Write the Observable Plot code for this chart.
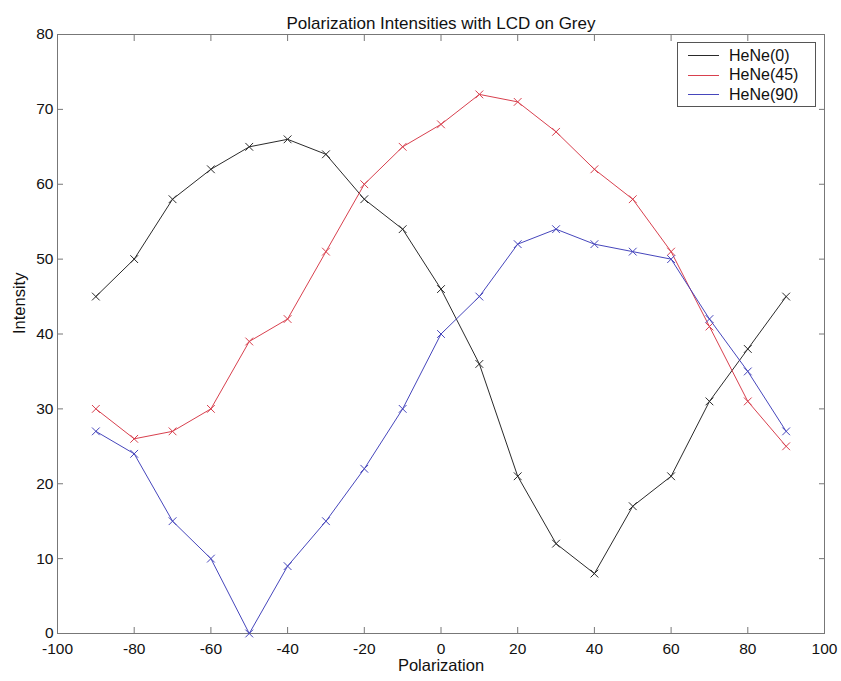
<!DOCTYPE html>
<html>
<head>
<meta charset="utf-8">
<script src="https://cdn.jsdelivr.net/npm/d3@7"></script>
<script src="https://cdn.jsdelivr.net/npm/@observablehq/plot@0.6"></script>
<style>
  body { margin: 0; background: #fff; font-family: "Liberation Sans", Arial, sans-serif; }
  #wrap { position: relative; width: 841px; height: 681px; }
  #legend { position: absolute; left: 677px; top: 42px; width: 137px; height: 63px; border: 1px solid #555; background: #fff; box-sizing: content-box; }
  .row { position: absolute; left: 0; height: 20px; display: flex; align-items: center; font-size: 16px; color: #111; }
  .sw { display: inline-block; width: 31px; height: 0; border-top: 1px solid; margin-left: 10px; margin-right: 10px; }
</style>
</head>
<body>
<div id="wrap"><div id="chart"></div><div id="legend"></div></div>
<script>
const polarization = [-90, -80, -70, -60, -50, -40, -30, -20, -10, 0, 10, 20, 30, 40, 50, 60, 70, 80, 90];
const hene0  = [45, 50, 58, 62, 65, 66, 64, 58, 54, 46, 36, 21, 12, 8, 17, 21, 31, 38, 45];
const hene45 = [30, 26, 27, 30, 39, 42, 51, 60, 65, 68, 72, 71, 67, 62, 58, 51, 41, 31, 25];
const hene90 = [27, 24, 15, 10, 0, 9, 15, 22, 30, 40, 45, 52, 54, 52, 51, 50, 42, 35, 27];
const seriesNames = ["HeNe(0)", "HeNe(45)", "HeNe(90)"];
const seriesColors = ["#2a2a2a", "#d8404e", "#4646bc"];
const xTicks = [-100, -80, -60, -40, -20, 0, 20, 40, 60, 80, 100];
const yTicks = [0, 10, 20, 30, 40, 50, 60, 70, 80];
const titleText = "Polarization Intensities with LCD on Grey";

const seriesValues = [hene0, hene45, hene90];
const rows = seriesValues.flatMap((vals, i) => vals.map((v, j) => ({x: polarization[j], y: v, s: seriesNames[i]})));

const fmt = d => String(d);
const marks = [Plot.frame({stroke: "#777", strokeWidth: 1})];
// inward ticks on all four sides
marks.push(Plot.axisX(xTicks, {anchor: "bottom", tickSize: 6, dy: -6, tickFormat: () => "", label: null, stroke: "#777"}));
marks.push(Plot.axisX(xTicks, {anchor: "top", tickSize: 6, dy: 6, tickFormat: () => "", label: null, stroke: "#777"}));
marks.push(Plot.axisY(yTicks, {anchor: "left", tickSize: 6, dx: 6, tickFormat: () => "", label: null, stroke: "#777"}));
marks.push(Plot.axisY(yTicks, {anchor: "right", tickSize: 6, dx: -6, tickFormat: () => "", label: null, stroke: "#777"}));
// tick labels
marks.push(Plot.axisX(xTicks, {anchor: "bottom", tickSize: 0, tickPadding: 9, tickFormat: fmt, label: null, fontSize: 15.5, fill: "#111"}));
marks.push(Plot.axisY(yTicks, {anchor: "left", tickSize: 0, tickPadding: 4, tickFormat: fmt, label: null, fontSize: 15.5, fill: "#111"}));

seriesNames.forEach((name, i) => {
  const d = rows.filter(r => r.s === name);
  marks.push(Plot.line(d, {x: "x", y: "y", stroke: seriesColors[i], strokeWidth: 1}));
  marks.push(Plot.dot(d, {x: "x", y: "y", symbol: "times", r: 3.6, stroke: seriesColors[i], strokeWidth: 1}));
});

marks.push(Plot.text([titleText], {frameAnchor: "top", dy: -18, fontSize: 17, fill: "#111"}));
marks.push(Plot.text(["Polarization"], {frameAnchor: "bottom", dy: 37, fontSize: 16.5, fill: "#111"}));
marks.push(Plot.text(["Intensity"], {frameAnchor: "left", dx: -38, rotate: -90, fontSize: 16.5, fill: "#111"}));

const chart = Plot.plot({
  width: 841,
  height: 681,
  marginLeft: 57,
  marginRight: 17,
  marginTop: 34,
  marginBottom: 48,
  style: {fontFamily: "'Liberation Sans', Arial, sans-serif", background: "#fff"},
  x: {domain: [-100, 100], axis: null},
  y: {domain: [0, 80], axis: null},
  marks
});
document.getElementById("chart").appendChild(chart);

const legend = document.getElementById("legend");
seriesNames.forEach((name, i) => {
  const row = document.createElement("div");
  row.className = "row";
  row.style.top = (2.5 + i * 19.5) + "px";
  const sw = document.createElement("span");
  sw.className = "sw";
  sw.style.borderTopColor = seriesColors[i];
  const t = document.createElement("span");
  t.textContent = name;
  row.appendChild(sw);
  row.appendChild(t);
  legend.appendChild(row);
});
</script>
</body>
</html>
